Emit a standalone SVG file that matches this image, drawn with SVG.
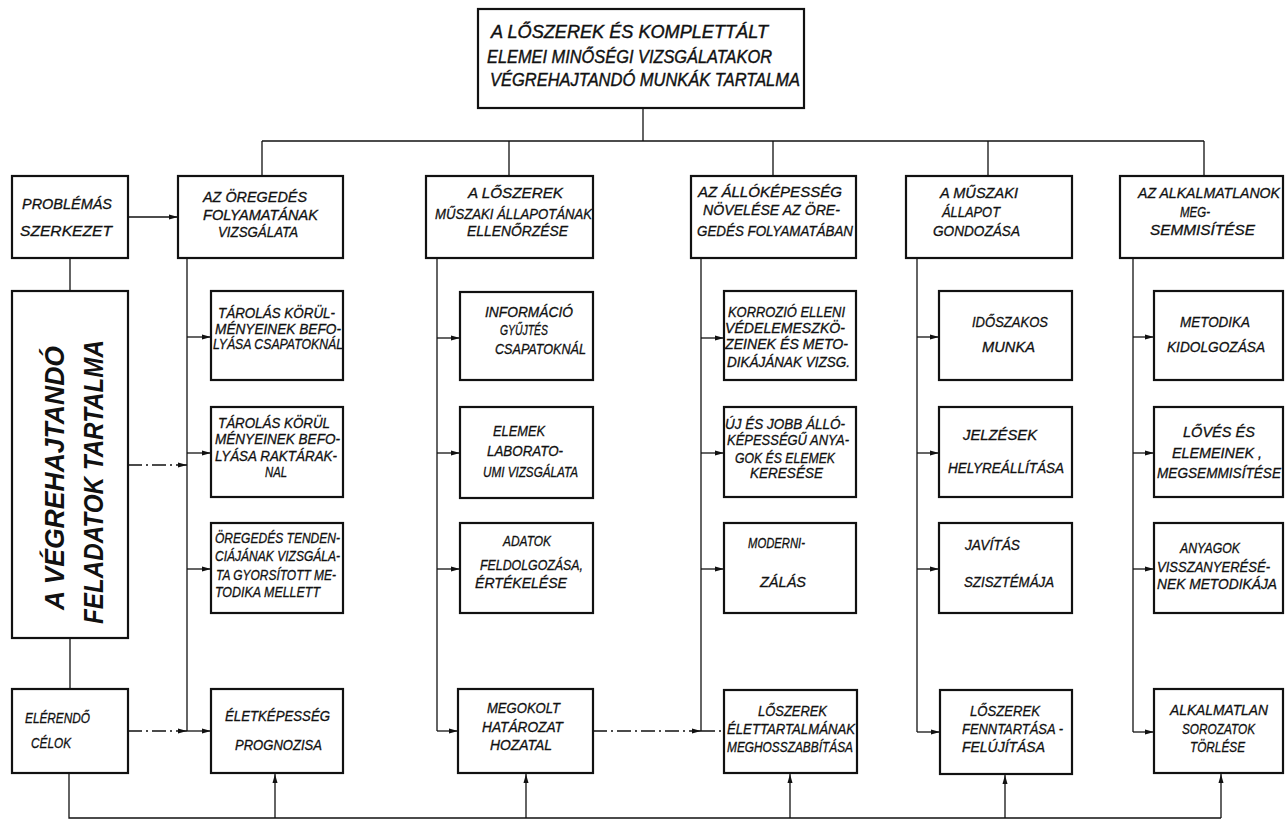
<svg xmlns="http://www.w3.org/2000/svg" width="1285" height="822" viewBox="0 0 1285 822">
<style>
.box{fill:#fff;stroke:#111;stroke-width:2.2}
.ln{fill:none;stroke:#111;stroke-width:1.3}
.dash{fill:none;stroke:#111;stroke-width:1.3;stroke-dasharray:14 4 2 4}
text{font-family:"Liberation Sans","DejaVu Sans",sans-serif;font-style:italic;fill:#111;stroke:#111;stroke-width:0.3;font-size:14px;text-transform:uppercase}
.t{font-size:18px;stroke-width:0.4}
.big{font-size:27px;font-weight:bold;stroke-width:0}
</style>
<defs>
<marker id="ah" markerWidth="9" markerHeight="6" refX="9" refY="3" orient="auto" markerUnits="userSpaceOnUse">
<path d="M0,0.5 L9,3 L0,5.5 z" fill="#111"/>
</marker>
</defs>
<rect width="1285" height="822" fill="#fff"/>

<g id="connectors">
<path class="ln" d="M643,108 V141"/>
<path class="ln" d="M262,141 H1204"/>
<path class="ln" d="M262,141 V176 M509,141 V176 M773,141 V176 M988,141 V176 M1204,141 V176"/>
<path class="ln" d="M128,217 H178" marker-end="url(#ah)"/>
<path class="ln" d="M70,258 V291"/>
<path class="ln" d="M70,638 V689"/>
<path class="dash" d="M128,465 H187" marker-end="url(#ah)"/>
<path class="dash" d="M128,731 H187" marker-end="url(#ah)"/>
<path class="ln" d="M187,258 V731"/>
<path class="ln" d="M187,337 H211" marker-end="url(#ah)"/>
<path class="ln" d="M187,453 H211" marker-end="url(#ah)"/>
<path class="ln" d="M187,569 H211" marker-end="url(#ah)"/>
<path class="ln" d="M187,731 H211" marker-end="url(#ah)"/>
<path class="ln" d="M437,258 V731"/>
<path class="ln" d="M437,338 H460" marker-end="url(#ah)"/>
<path class="ln" d="M437,453 H460" marker-end="url(#ah)"/>
<path class="ln" d="M437,569 H460" marker-end="url(#ah)"/>
<path class="ln" d="M437,731 H458" marker-end="url(#ah)"/>
<path class="dash" d="M593,731 H701" marker-end="url(#ah)"/>
<path class="ln" d="M701,258 V731"/>
<path class="ln" d="M701,338 H724" marker-end="url(#ah)"/>
<path class="ln" d="M701,453 H724" marker-end="url(#ah)"/>
<path class="ln" d="M701,569 H724" marker-end="url(#ah)"/>
<path class="dash" d="M701,731 H724"/>
<path class="ln" d="M917,258 V732"/>
<path class="ln" d="M917,337 H939" marker-end="url(#ah)"/>
<path class="ln" d="M917,453 H939" marker-end="url(#ah)"/>
<path class="ln" d="M917,569 H939" marker-end="url(#ah)"/>
<path class="ln" d="M917,732 H940" marker-end="url(#ah)"/>
<path class="ln" d="M1133,258 V732"/>
<path class="ln" d="M1133,337 H1154" marker-end="url(#ah)"/>
<path class="ln" d="M1133,453 H1154" marker-end="url(#ah)"/>
<path class="ln" d="M1133,569 H1154" marker-end="url(#ah)"/>
<path class="ln" d="M1133,732 H1154" marker-end="url(#ah)"/>
<path class="ln" d="M69,773 V818 H1221"/>
<path class="ln" d="M275,818 V774" marker-end="url(#ah)"/>
<path class="ln" d="M526,818 V774" marker-end="url(#ah)"/>
<path class="ln" d="M790,818 V774" marker-end="url(#ah)"/>
<path class="ln" d="M1005,818 V775" marker-end="url(#ah)"/>
<path class="ln" d="M1221,818 V774" marker-end="url(#ah)"/>
</g>

<g id="title">
<rect class="box" x="478" y="9" width="326" height="99"/>
<text class="t" x="491" y="38" textLength="277" lengthAdjust="spacingAndGlyphs">A LŐSZEREK ÉS KOMPLETTÁLT</text>
<text class="t" x="487" y="63" textLength="285" lengthAdjust="spacingAndGlyphs">ELEMEI MINŐSÉGI VIZSGÁLATAKOR</text>
<text class="t" x="490" y="86" textLength="310" lengthAdjust="spacingAndGlyphs">VÉGREHAJTANDÓ MUNKÁK TARTALMA</text>
</g>

<g id="problemas">
<rect class="box" x="12" y="176" width="116" height="82"/>
<text x="22" y="209" textLength="90" lengthAdjust="spacingAndGlyphs">PROBLÉMÁS</text>
<text x="20" y="236" textLength="92" lengthAdjust="spacingAndGlyphs">SZERKEZET</text>
</g>

<g id="feladatok">
<rect class="box" x="12" y="291" width="116" height="347"/>
<text class="big" transform="translate(64,610) rotate(-90)" textLength="264" lengthAdjust="spacingAndGlyphs">A VÉGREHAJTANDÓ</text>
<text class="big" transform="translate(103,624) rotate(-90)" textLength="284" lengthAdjust="spacingAndGlyphs">FELADATOK TARTALMA</text>
</g>

<g id="celok">
<rect class="box" x="12" y="689" width="116" height="84"/>
<text x="25" y="723" textLength="65" lengthAdjust="spacingAndGlyphs">ELÉRENDŐ</text>
<text x="31" y="748" textLength="40" lengthAdjust="spacingAndGlyphs">CÉLOK</text>
</g>

<g id="c1h">
<rect class="box" x="178" y="176" width="165" height="82"/>
<text x="203" y="202" textLength="104" lengthAdjust="spacingAndGlyphs">AZ ÖREGEDÉS</text>
<text x="203" y="220" textLength="115" lengthAdjust="spacingAndGlyphs">FOLYAMATÁNAK</text>
<text x="218" y="237" textLength="80" lengthAdjust="spacingAndGlyphs">VIZSGÁLATA</text>
</g>
<g id="c1r1">
<rect class="box" x="211" y="291" width="132" height="89"/>
<text x="218" y="318" textLength="117" lengthAdjust="spacingAndGlyphs">TÁROLÁS KÖRÜL-</text>
<text x="215" y="334" textLength="126" lengthAdjust="spacingAndGlyphs">MÉNYEINEK BEFO-</text>
<text x="213" y="349" textLength="130" lengthAdjust="spacingAndGlyphs">LYÁSA CSAPATOKNÁL</text>
</g>
<g id="c1r2">
<rect class="box" x="211" y="407" width="132" height="90"/>
<text x="218" y="428" textLength="112" lengthAdjust="spacingAndGlyphs">TÁROLÁS KÖRÜL</text>
<text x="215" y="444" textLength="125" lengthAdjust="spacingAndGlyphs">MÉNYEINEK BEFO-</text>
<text x="215" y="461" textLength="122" lengthAdjust="spacingAndGlyphs">LYÁSA RAKTÁRAK-</text>
<text x="265" y="477" textLength="22" lengthAdjust="spacingAndGlyphs">NAL</text>
</g>
<g id="c1r3">
<rect class="box" x="211" y="523" width="132" height="90"/>
<text x="215" y="543" textLength="125" lengthAdjust="spacingAndGlyphs">ÖREGEDÉS TENDEN-</text>
<text x="215" y="561" textLength="125" lengthAdjust="spacingAndGlyphs">CIÁJÁNAK VIZSGÁLA-</text>
<text x="216" y="580" textLength="120" lengthAdjust="spacingAndGlyphs">TA GYORSÍTOTT ME-</text>
<text x="215" y="597" textLength="105" lengthAdjust="spacingAndGlyphs">TODIKA MELLETT</text>
</g>
<g id="c1b">
<rect class="box" x="211" y="689" width="132" height="84"/>
<text x="225" y="721" textLength="105" lengthAdjust="spacingAndGlyphs">ÉLETKÉPESSÉG</text>
<text x="235" y="750" textLength="87" lengthAdjust="spacingAndGlyphs">PROGNOZISA</text>
</g>

<g id="c2h">
<rect class="box" x="426" y="176" width="167" height="82"/>
<text x="468" y="198" textLength="95" lengthAdjust="spacingAndGlyphs">A LŐSZEREK</text>
<text x="435" y="219" textLength="157" lengthAdjust="spacingAndGlyphs">MŰSZAKI ÁLLAPOTÁNAK</text>
<text x="467" y="236" textLength="101" lengthAdjust="spacingAndGlyphs">ELLENŐRZÉSE</text>
</g>
<g id="c2r1">
<rect class="box" x="460" y="292" width="133" height="88"/>
<text x="485" y="317" textLength="88" lengthAdjust="spacingAndGlyphs">INFORMÁCIÓ</text>
<text x="500" y="335" textLength="48" lengthAdjust="spacingAndGlyphs">GYŰJTÉS</text>
<text x="495" y="354" textLength="91" lengthAdjust="spacingAndGlyphs">CSAPATOKNÁL</text>
</g>
<g id="c2r2">
<rect class="box" x="460" y="407" width="133" height="91"/>
<text x="493" y="436" textLength="52" lengthAdjust="spacingAndGlyphs">ELEMEK</text>
<text x="487" y="456" textLength="76" lengthAdjust="spacingAndGlyphs">LABORATO-</text>
<text x="483" y="477" textLength="95" lengthAdjust="spacingAndGlyphs">UMI VIZSGÁLATA</text>
</g>
<g id="c2r3">
<rect class="box" x="460" y="523" width="133" height="90"/>
<text x="503" y="546" textLength="48" lengthAdjust="spacingAndGlyphs">ADATOK</text>
<text x="480" y="570" textLength="103" lengthAdjust="spacingAndGlyphs">FELDOLGOZÁSA,</text>
<text x="475" y="588" textLength="92" lengthAdjust="spacingAndGlyphs">ÉRTÉKELÉSE</text>
</g>
<g id="c2b">
<rect class="box" x="458" y="689" width="135" height="84"/>
<text x="487" y="713" textLength="73" lengthAdjust="spacingAndGlyphs">MEGOKOLT</text>
<text x="482" y="732" textLength="81" lengthAdjust="spacingAndGlyphs">HATÁROZAT</text>
<text x="490" y="750" textLength="62" lengthAdjust="spacingAndGlyphs">HOZATAL</text>
</g>

<g id="c3h">
<rect class="box" x="691" y="176" width="165" height="82"/>
<text x="698" y="197" textLength="144" lengthAdjust="spacingAndGlyphs">AZ ÁLLÓKÉPESSÉG</text>
<text x="703" y="215" textLength="137" lengthAdjust="spacingAndGlyphs">NÖVELÉSE AZ ÖRE-</text>
<text x="697" y="236" textLength="156" lengthAdjust="spacingAndGlyphs">GEDÉS FOLYAMATÁBAN</text>
</g>
<g id="c3r1">
<rect class="box" x="724" y="291" width="132" height="89"/>
<text x="728" y="317" textLength="117" lengthAdjust="spacingAndGlyphs">KORROZIÓ ELLENI</text>
<text x="725" y="333" textLength="120" lengthAdjust="spacingAndGlyphs">VÉDELEMESZKÖ-</text>
<text x="725" y="349" textLength="123" lengthAdjust="spacingAndGlyphs">ZEINEK ÉS METO-</text>
<text x="727" y="367" textLength="123" lengthAdjust="spacingAndGlyphs">DIKÁJÁNAK VIZSG.</text>
</g>
<g id="c3r2">
<rect class="box" x="724" y="407" width="132" height="90"/>
<text x="725" y="429" textLength="120" lengthAdjust="spacingAndGlyphs">ÚJ ÉS JOBB ÁLLÓ-</text>
<text x="727" y="445" textLength="122" lengthAdjust="spacingAndGlyphs">KÉPESSÉGŰ ANYA-</text>
<text x="735" y="463" textLength="100" lengthAdjust="spacingAndGlyphs">GOK ÉS ELEMEK</text>
<text x="750" y="478" textLength="73" lengthAdjust="spacingAndGlyphs">KERESÉSE</text>
</g>
<g id="c3r3">
<rect class="box" x="724" y="523" width="132" height="90"/>
<text x="748" y="548" textLength="57" lengthAdjust="spacingAndGlyphs">MODERNI-</text>
<text x="760" y="587" textLength="46" lengthAdjust="spacingAndGlyphs">ZÁLÁS</text>
</g>
<g id="c3b">
<rect class="box" x="724" y="690" width="133" height="83"/>
<text x="758" y="716" textLength="69" lengthAdjust="spacingAndGlyphs">LŐSZEREK</text>
<text x="727" y="734" textLength="128" lengthAdjust="spacingAndGlyphs">ÉLETTARTALMÁNAK</text>
<text x="727" y="752" textLength="126" lengthAdjust="spacingAndGlyphs">MEGHOSSZABBÍTÁSA</text>
</g>

<g id="c4h">
<rect class="box" x="906" y="176" width="166" height="82"/>
<text x="940" y="198" textLength="78" lengthAdjust="spacingAndGlyphs">A MŰSZAKI</text>
<text x="942" y="217" textLength="58" lengthAdjust="spacingAndGlyphs">ÁLLAPOT</text>
<text x="933" y="236" textLength="87" lengthAdjust="spacingAndGlyphs">GONDOZÁSA</text>
</g>
<g id="c4r1">
<rect class="box" x="939" y="291" width="133" height="89"/>
<text x="972" y="327" textLength="76" lengthAdjust="spacingAndGlyphs">IDŐSZAKOS</text>
<text x="982" y="352" textLength="53" lengthAdjust="spacingAndGlyphs">MUNKA</text>
</g>
<g id="c4r2">
<rect class="box" x="939" y="407" width="133" height="90"/>
<text x="963" y="440" textLength="74" lengthAdjust="spacingAndGlyphs">JELZÉSEK</text>
<text x="948" y="473" textLength="116" lengthAdjust="spacingAndGlyphs">HELYREÁLLÍTÁSA</text>
</g>
<g id="c4r3">
<rect class="box" x="939" y="523" width="133" height="90"/>
<text x="965" y="550" textLength="55" lengthAdjust="spacingAndGlyphs">JAVÍTÁS</text>
<text x="964" y="587" textLength="90" lengthAdjust="spacingAndGlyphs">SZISZTÉMÁJA</text>
</g>
<g id="c4b">
<rect class="box" x="940" y="690" width="132" height="84"/>
<text x="970" y="716" textLength="70" lengthAdjust="spacingAndGlyphs">LŐSZEREK</text>
<text x="962" y="734" textLength="101" lengthAdjust="spacingAndGlyphs">FENNTARTÁSA -</text>
<text x="962" y="752" textLength="83" lengthAdjust="spacingAndGlyphs">FELÚJÍTÁSA</text>
</g>

<g id="c5h">
<rect class="box" x="1120" y="176" width="163" height="82"/>
<text x="1138" y="198" textLength="142" lengthAdjust="spacingAndGlyphs">AZ ALKALMATLANOK</text>
<text x="1180" y="217" textLength="30" lengthAdjust="spacingAndGlyphs">MEG-</text>
<text x="1150" y="235" textLength="105" lengthAdjust="spacingAndGlyphs">SEMMISÍTÉSE</text>
</g>
<g id="c5r1">
<rect class="box" x="1154" y="291" width="129" height="89"/>
<text x="1180" y="327" textLength="70" lengthAdjust="spacingAndGlyphs">METODIKA</text>
<text x="1167" y="352" textLength="98" lengthAdjust="spacingAndGlyphs">KIDOLGOZÁSA</text>
</g>
<g id="c5r2">
<rect class="box" x="1154" y="407" width="129" height="90"/>
<text x="1183" y="437" textLength="72" lengthAdjust="spacingAndGlyphs">LŐVÉS ÉS</text>
<text x="1172" y="458" textLength="90" lengthAdjust="spacingAndGlyphs">ELEMEINEK ,</text>
<text x="1157" y="478" textLength="124" lengthAdjust="spacingAndGlyphs">MEGSEMMISÍTÉSE</text>
</g>
<g id="c5r3">
<rect class="box" x="1154" y="523" width="129" height="90"/>
<text x="1180" y="553" textLength="60" lengthAdjust="spacingAndGlyphs">ANYAGOK</text>
<text x="1157" y="572" textLength="113" lengthAdjust="spacingAndGlyphs">VISSZANYERÉSÉ-</text>
<text x="1157" y="589" textLength="120" lengthAdjust="spacingAndGlyphs">NEK METODIKÁJA</text>
</g>
<g id="c5b">
<rect class="box" x="1154" y="689" width="129" height="84"/>
<text x="1170" y="715" textLength="98" lengthAdjust="spacingAndGlyphs">ALKALMATLAN</text>
<text x="1182" y="734" textLength="73" lengthAdjust="spacingAndGlyphs">SOROZATOK</text>
<text x="1190" y="752" textLength="55" lengthAdjust="spacingAndGlyphs">TÖRLÉSE</text>
</g>
</svg>
